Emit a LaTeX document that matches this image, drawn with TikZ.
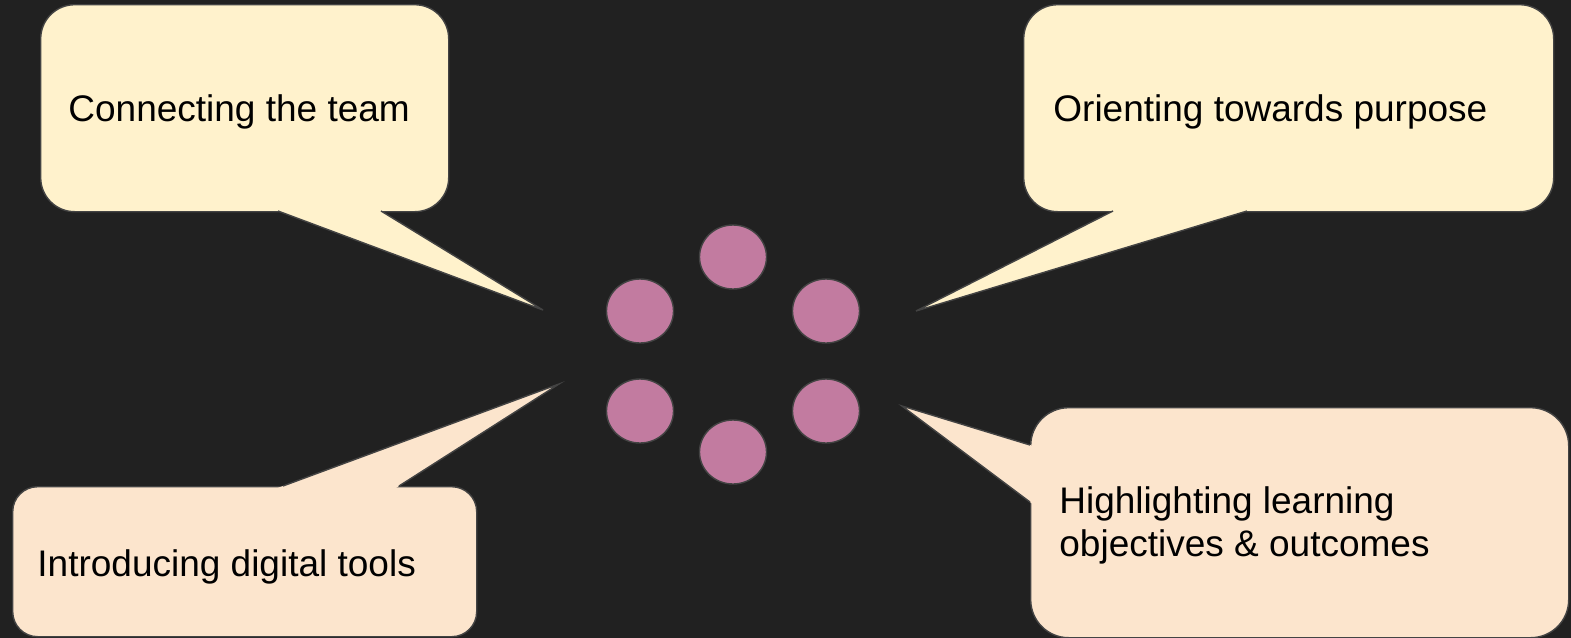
\documentclass[tikz,border=0pt]{standalone}
\usepackage{fontspec}
\setmainfont{Liberation Sans}
\usetikzlibrary{shapes.geometric,calc}

\definecolor{bg}{HTML}{212121}
\definecolor{rim}{HTML}{434343}
\definecolor{butter}{HTML}{FFF2CC}
\definecolor{peach}{HTML}{FCE5CD}
\definecolor{mauve}{HTML}{C27BA0}

\begin{document}
\begin{tikzpicture}[x=0.5pt, y=-0.5pt,
  bubble/.style={rectangle, draw=rim, line width=0.7pt, inner sep=0pt, anchor=north west},
  tail/.style={draw=rim, line width=0.7pt},
  say/.style={anchor=base west, inner sep=0pt, align=left,
    font=\fontsize{18.5}{21.5}\selectfont},
  dot/.style={ellipse, draw=rim, line width=0.7pt, fill=mauve,
    minimum width=33.5pt, minimum height=32pt, inner sep=0pt}]
\fill[bg] (0,0) rectangle (1571,638);
\useasboundingbox (0,0) rectangle (1571,638);

% boxes
\node[bubble, fill=butter, rounded corners=17pt, minimum width=204pt, minimum height=103.5pt] (teambox) at (40,4) {};
\node[bubble, fill=butter, rounded corners=17pt, minimum width=265pt, minimum height=103.5pt] (purposebox) at (1023,4) {};
\node[bubble, fill=peach, rounded corners=12.5pt, minimum width=232pt, minimum height=75pt] (toolsbox) at (12,486) {};
\node[bubble, fill=peach, rounded corners=19pt, minimum width=269pt, minimum height=115pt] (outcomesbox) at (1030,407) {};

% tails
\coordinate (teamA) at (278,211);
\coordinate (teamB) at (381,211);
\coordinate (teamtip) at (543,310);
\coordinate (purposeA) at (1113,211);
\coordinate (purposeB) at (1247,211);
\coordinate (purposetip) at (916,311);
\coordinate (toolsA) at (283,486);
\coordinate (toolsB) at (399,486);
\coordinate (toolstip) at (559,384);
\coordinate (outcomesA) at (1030,445);
\coordinate (outcomesB) at (1030,502);
\coordinate (outcomestip) at (902,406);

\foreach \b/\c in {team/butter, purpose/butter, tools/peach, outcomes/peach} {
  \fill[\c] (\b tip) -- ($(\b tip)!1.04!(\b A)$) -- ($(\b tip)!1.04!(\b B)$) -- cycle;
  \draw[tail] (\b A) -- (\b tip) -- (\b B);
}

% texts
\node[say] (team) at (68,121) {Connecting the team};
\node[say] (purpose) at (1053,121) {Orienting towards purpose};
\node[say] (tools) at (37,576) {Introducing digital tools};
\node[say] (outcomes) at (1059,556) {Highlighting learning\\objectives \& outcomes};

% ring of dots
\foreach \n/\x/\y in {1/733/257, 2/826/311, 3/826/411, 4/733/452, 5/640/411, 6/640/311}
  \node[dot] (dot\n) at (\x,\y) {};
\end{tikzpicture}
\end{document}
